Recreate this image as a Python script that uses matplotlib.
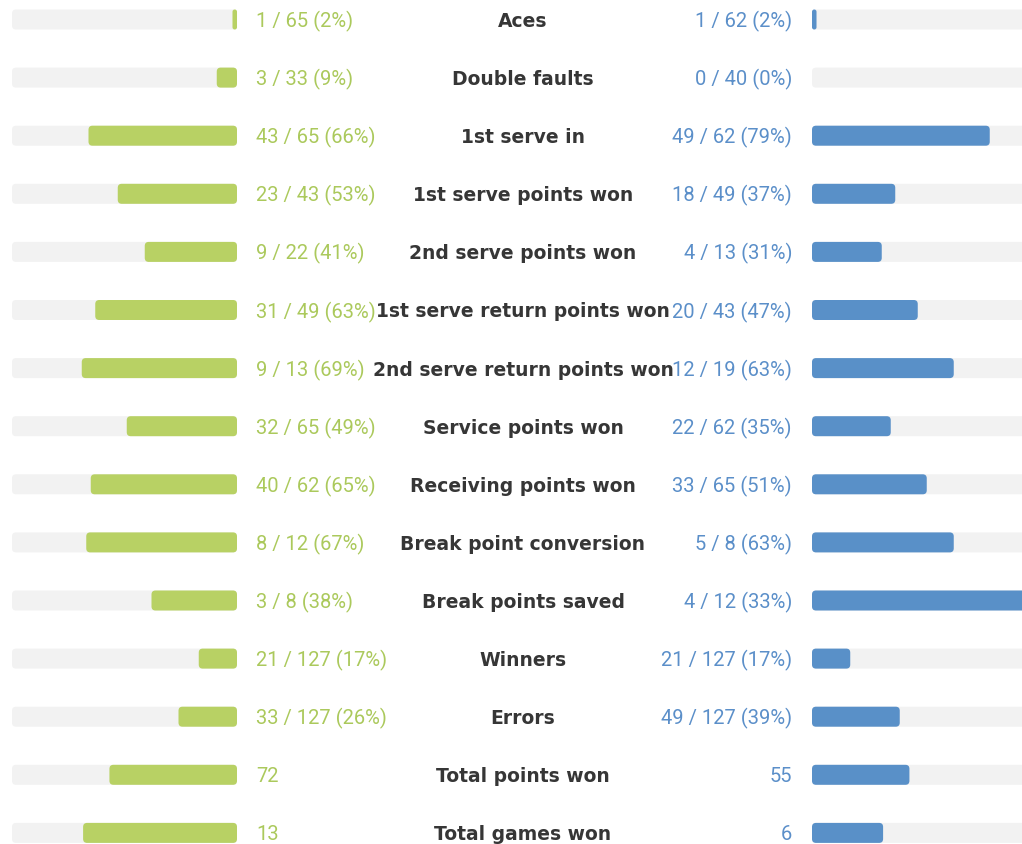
import matplotlib.pyplot as plt
from matplotlib.patches import FancyBboxPatch

labels = ["Aces", "Double faults", "1st serve in", "1st serve points won",
          "2nd serve points won", "1st serve return points won",
          "2nd serve return points won", "Service points won",
          "Receiving points won", "Break point conversion",
          "Break points saved", "Winners", "Errors",
          "Total points won", "Total games won"]
left_text = ["1 / 65 (2%)", "3 / 33 (9%)", "43 / 65 (66%)", "23 / 43 (53%)",
             "9 / 22 (41%)", "31 / 49 (63%)", "9 / 13 (69%)", "32 / 65 (49%)",
             "40 / 62 (65%)", "8 / 12 (67%)", "3 / 8 (38%)", "21 / 127 (17%)",
             "33 / 127 (26%)", "72", "13"]
right_text = ["1 / 62 (2%)", "0 / 40 (0%)", "49 / 62 (79%)", "18 / 49 (37%)",
              "4 / 13 (31%)", "20 / 43 (47%)", "12 / 19 (63%)", "22 / 62 (35%)",
              "33 / 65 (51%)", "5 / 8 (63%)", "4 / 12 (33%)", "21 / 127 (17%)",
              "49 / 127 (39%)", "55", "6"]
# bar fill, percent of track
left_pct = [2, 9, 66, 53, 41, 63, 69, 49, 65, 67, 38, 17, 26, 56.7, 68.4]
right_pct = [2, 0, 79, 37, 31, 47, 63, 35, 51, 63, 100, 17, 39, 43.3, 31.6]

green = "#b8d164"
blue = "#5990c8"
track = "#f2f2f2"

fig = plt.figure(figsize=(10.22, 8.45), dpi=100)
ax = fig.add_axes([0, 0, 1, 1])
ax.set_xlim(0, 1022)
ax.set_ylim(845, 0)
ax.axis("off")

L0, L1 = 12, 237
R0 = 812
W = L1 - L0
h = 20
r = 4

def rbox(x, y, w, col):
    if w <= 0:
        return
    rad = min(r, w / 2)
    p = FancyBboxPatch((x + rad, y - h / 2 + rad), max(w - 2 * rad, 0.01),
                       h - 2 * rad, boxstyle="round,pad=%g" % rad,
                       fc=col, ec="none", mutation_aspect=1)
    ax.add_patch(p)

for i, lab in enumerate(labels):
    y = 20.5 + i * 58.1
    rbox(L0, y, W, track)
    rbox(R0, y, W, track)
    lw = W * left_pct[i] / 100
    rw = W * right_pct[i] / 100
    rbox(L1 - lw, y, lw, green)
    rbox(R0, y, rw, blue)
    ax.text(256, y + 1, left_text[i], color="#abc95c", fontsize=14.5,
            family="Roboto", ha="left", va="center")
    ax.text(792, y + 1, right_text[i], color="#5b8fc9", fontsize=14.5,
            family="Roboto", ha="right", va="center")
    ax.text(523, y + 1, lab, color="#363636", fontsize=13.5,
            family="DejaVu Sans", weight="bold", ha="center", va="center")

fig.savefig("out.png", dpi=100)
